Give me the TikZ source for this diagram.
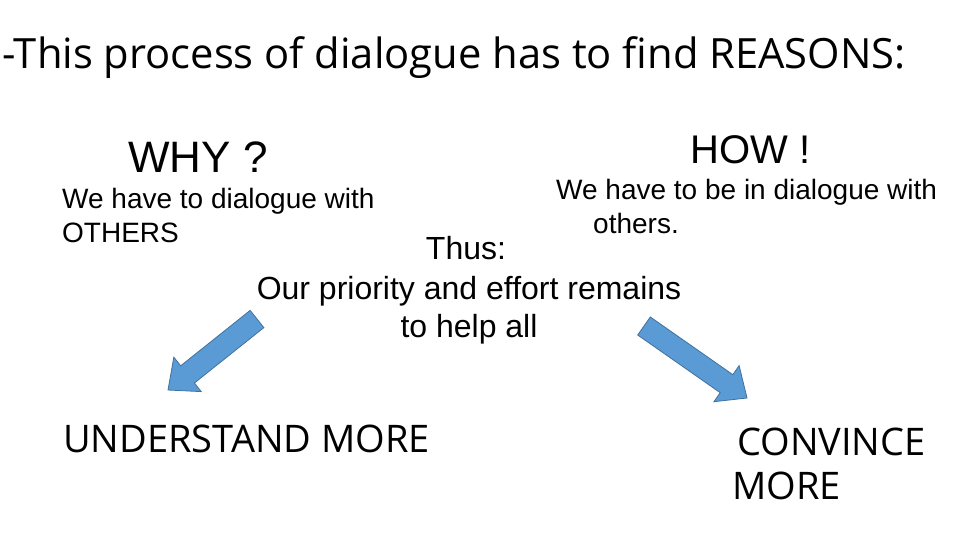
\documentclass[tikz,border=0pt]{standalone}
\usepackage{fontspec}
\setmainfont{Liberation Sans}
\newfontfamily\headfont{Open Sans}
\usetikzlibrary{calc}
\definecolor{arrowblue}{HTML}{5B9BD5}
\definecolor{arrowedge}{HTML}{41719C}
\tikzset{
  txt/.style={inner sep=0pt, anchor=base west},
  head/.style={txt, font=\headfont\fontsize{38}{46}\selectfont},
  title/.style={txt, font=\headfont\fontsize{41.7}{50}\selectfont},
  big/.style={txt, font=\fontsize{44}{52}\selectfont},
  body/.style={txt, font=\fontsize{28}{32}\selectfont},
  mid/.style={txt, anchor=base, font=\fontsize{32}{38}\selectfont},
  bluearrow/.style={fill=arrowblue, draw=arrowedge, line width=0.8pt, line join=miter}
}
\def\blockarrow(#1)(#2){%
  \coordinate (neck) at ($(#2)!25pt!(#1)$);
  \draw[bluearrow] ($(#1)!11pt!90:(#2)$) -- ($(neck)!11pt!90:(#2)$) -- ($(neck)!22pt!90:(#2)$) -- (#2)
    -- ($(neck)!22pt!-90:(#2)$) -- ($(neck)!11pt!-90:(#2)$) -- ($(#1)!11pt!-90:(#2)$) -- cycle;}

\begin{document}
\begin{tikzpicture}[x=1pt, y=-1pt]
			%%%%% FRAME %%%%%
			\useasboundingbox (0, 0) rectangle (960, 540);
			\fill[white] (0, 0) rectangle (960, 540);
			
			\node[title] (titleline) at (2, 69) {-This process of dialogue has to find REASONS:};
			
			%%%%% LEFT %%%%%
			\node[big] (why) at (128, 172) {WHY ?};
			\node[body] (whyone) at (62, 208) {We have to dialogue with};
			\node[body] (whytwo) at (62, 242) {OTHERS};
			
			%%%%% RIGHT %%%%%
			\node[big, font=\fontsize{40}{48}\selectfont] (how) at (690, 164) {HOW !};
			\node[body] (howone) at (556, 199) {We have to be in dialogue with};
			\node[body] (howtwo) at (593, 233) {others.};
			
			%%%%% MIDDLE %%%%%
			\node[mid] (thus) at (466, 259) {Thus:};
			\node[mid] (prio) at (469, 299) {Our priority and effort remains};
			\node[mid] (help) at (469, 337) {to help all};
			
			%%%%% ARROWS %%%%%
			\coordinate (lefttail) at (257, 319);
			\coordinate (lefttip) at (168, 390);
			\blockarrow(lefttail)(lefttip)
			
			\coordinate (righttail) at (644, 326);
			\coordinate (righttip) at (747, 398);
			\blockarrow(righttail)(righttip)
			
			%%%%% BOTTOM %%%%%
			\node[head] (understand) at (63, 452) {UNDERSTAND MORE};
			\node[head] (convince) at (737, 455) {CONVINCE};
			\node[head] (more) at (732, 499) {MORE};
\end{tikzpicture}
\end{document}
